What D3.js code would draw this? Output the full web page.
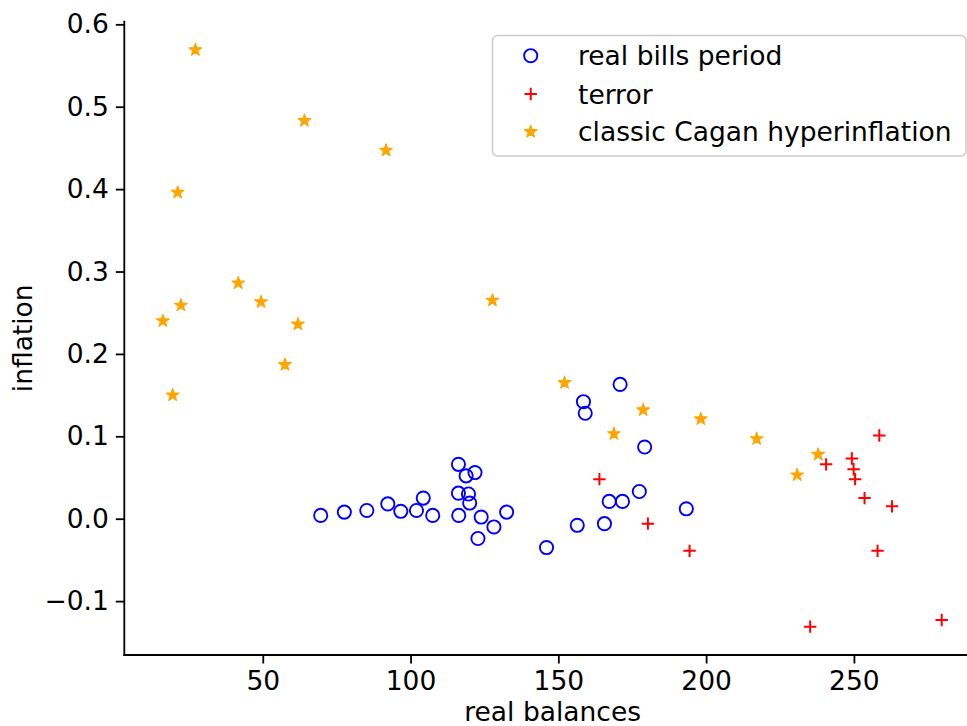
<!DOCTYPE html>
<html>
<head>
<meta charset="utf-8">
<script src="https://cdn.jsdelivr.net/npm/d3@7"></script>
<style>
  html, body { margin: 0; padding: 0; background: #fff; }
  svg { display: block; }
  text { font-family: "DejaVu Sans", sans-serif; fill: #000; }
</style>
</head>
<body>
<svg id="chart" width="967" height="726"></svg>
<script>
// ---- data (real balances, inflation) ----
const realBillsX = [69.6, 77.6, 85.2, 92.3, 96.7, 102.0, 104.3, 107.5, 116.2, 118.8, 121.8, 116.2, 119.6, 120.0, 116.3, 123.9, 128.2, 122.8, 132.5, 146.0, 156.4, 165.6, 167.2, 171.7, 177.4, 193.3, 158.5, 159.1, 170.9, 179.2];
const realBillsY = [0.004, 0.008, 0.010, 0.018, 0.009, 0.010, 0.025, 0.004, 0.066, 0.052, 0.056, 0.031, 0.030, 0.019, 0.004, 0.002, -0.010, -0.024, 0.008, -0.035, -0.008, -0.006, 0.021, 0.021, 0.033, 0.012, 0.142, 0.128, 0.163, 0.087];

const terrorX = [163.9, 180.3, 194.4, 258.6, 240.6, 249.3, 249.9, 250.4, 253.6, 262.9, 258.0, 235.2, 279.7];
const terrorY = [0.048, -0.006, -0.039, 0.101, 0.066, 0.073, 0.060, 0.048, 0.025, 0.015, -0.039, -0.131, -0.123];

const caganX = [27.2, 64.1, 91.7, 21.2, 41.7, 49.4, 22.3, 16.2, 61.9, 127.7, 57.5, 19.5, 152.1, 178.7, 168.8, 198.2, 217.1, 237.9, 230.8];
const caganY = [0.569, 0.483, 0.447, 0.396, 0.286, 0.263, 0.259, 0.240, 0.236, 0.265, 0.187, 0.150, 0.165, 0.132, 0.103, 0.121, 0.097, 0.078, 0.053];

const xTicks = [50, 100, 150, 200, 250];
const yTicks = [-0.1, 0.0, 0.1, 0.2, 0.3, 0.4, 0.5, 0.6];
const seriesNames = ["real bills period", "terror", "classic Cagan hyperinflation"];
const xLabel = "real balances";
const yLabel = "inflation";

// ---- layout ----
const svg = d3.select("#chart");
const padL = 124.3, padR = 981, padT = 21.6, padB = 655;
const x = d3.scaleLinear().domain([3.15, 293]).range([padL, padR]);
const y = d3.scaleLinear().domain([-0.1654, 0.6033]).range([padB, padT]);
const fontSize = 26.5;

const zip = (xs, ys) => xs.map((v, i) => [v, ys[i]]);
const realBills = zip(realBillsX, realBillsY);
const terror = zip(terrorX, terrorY);
const cagan = zip(caganX, caganY);

// markers
const blue = "#0000ff", red = "#ff0000", orange = "#ffa500";
const circleR = 6.6, plusHalf = 6.2, starR = 6.6;
const plusPath = `M${-plusHalf},0H${plusHalf}M0,${-plusHalf}V${plusHalf}`;
const starSym = d3.symbol().type(d3.symbolStar).size(starR * starR / 0.8908130915292852);

function drawCircle(g, cx, cy) {
  g.append("circle").attr("cx", cx).attr("cy", cy).attr("r", circleR)
    .attr("fill", "none").attr("stroke", blue).attr("stroke-width", 1.9);
}
function drawPlus(g, cx, cy) {
  g.append("path").attr("d", plusPath).attr("transform", `translate(${cx},${cy})`)
    .attr("fill", "none").attr("stroke", red).attr("stroke-width", 2);
}
function drawStar(g, cx, cy) {
  g.append("path").attr("d", starSym()).attr("transform", `translate(${cx},${cy})`)
    .attr("fill", orange).attr("stroke", orange).attr("stroke-width", 1.2).attr("stroke-linejoin", "round");
}

const plot = svg.append("g");
realBills.forEach(d => drawCircle(plot, x(d[0]), y(d[1])));
terror.forEach(d => drawPlus(plot, x(d[0]), y(d[1])));
cagan.forEach(d => drawStar(plot, x(d[0]), y(d[1])));

// axes
const xAxis = d3.axisBottom(x).tickValues(xTicks).tickFormat(d3.format("d")).tickSize(8.5).tickPadding(8);
const yAxis = d3.axisLeft(y).tickValues(yTicks).tickFormat(d3.format(".1f")).tickSize(8.5).tickPadding(7);

const gx = svg.append("g").attr("transform", `translate(0,${padB})`).call(xAxis);
const gy = svg.append("g").attr("transform", `translate(${padL},0)`).call(yAxis);
[gx, gy].forEach(g => {
  g.select(".domain").remove();
  g.selectAll(".tick line").attr("stroke", "#000").attr("stroke-width", 1.8);
  g.selectAll(".tick text").attr("font-size", fontSize).attr("font-family", "DejaVu Sans").attr("fill", "#000");
});

// spines
svg.append("line").attr("x1", padL).attr("x2", padL).attr("y1", padT).attr("y2", padB)
  .attr("stroke", "#000").attr("stroke-width", 1.8).attr("stroke-linecap", "square");
svg.append("line").attr("x1", padL).attr("x2", padR).attr("y1", padB).attr("y2", padB)
  .attr("stroke", "#000").attr("stroke-width", 1.8).attr("stroke-linecap", "square");

// axis labels
svg.append("text").attr("x", (padL + padR) / 2).attr("y", 721)
  .attr("text-anchor", "middle").attr("font-size", fontSize).text(xLabel);
svg.append("text").attr("transform", `translate(32,${(padT + padB) / 2}) rotate(-90)`)
  .attr("text-anchor", "middle").attr("font-size", fontSize).text(yLabel);

// legend
const lg = svg.append("g");
lg.append("rect").attr("x", 492.5).attr("y", 35.5).attr("width", 473.5).attr("height", 120.5)
  .attr("rx", 5).attr("fill", "#fff").attr("fill-opacity", 0.8).attr("stroke", "#cccccc").attr("stroke-width", 1.5);
const legendRows = [55.7, 94, 131.7];
const drawers = [drawCircle, drawPlus, drawStar];
seriesNames.forEach((name, i) => {
  drawers[i](lg, 530.7, legendRows[i]);
  lg.append("text").attr("x", 578).attr("y", legendRows[i]).attr("dy", "0.36em")
    .attr("font-size", fontSize).text(name);
});
</script>
</body>
</html>
